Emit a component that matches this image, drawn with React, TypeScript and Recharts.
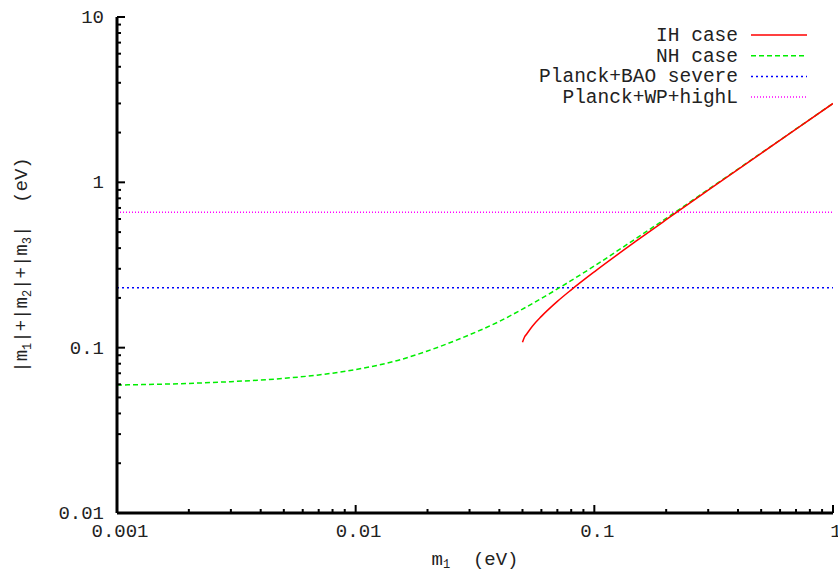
import { LineChart, Line, XAxis, YAxis, ReferenceLine } from 'recharts';

// sum of neutrino masses vs lightest mass m1
const nhM1 = [0.001, 0.002, 0.003, 0.005, 0.007, 0.01, 0.015, 0.02, 0.03, 0.04, 0.05, 0.07, 0.1, 0.15, 0.2, 0.3, 0.5, 0.7, 1];
const nhSum = [0.0594, 0.0608, 0.0623, 0.0652, 0.0684, 0.0737, 0.0837, 0.0955, 0.1197, 0.1441, 0.171, 0.2265, 0.312, 0.459, 0.606, 0.905, 1.503, 2.102, 3.001];

const ihM1 = [0.05, 0.051, 0.052, 0.055, 0.06, 0.07, 0.08, 0.1, 0.15, 0.2, 0.3, 0.5, 0.7, 1];
const ihSum = [0.108, 0.116, 0.1206, 0.1347, 0.1546, 0.1905, 0.2237, 0.2876, 0.4421, 0.594, 0.896, 1.498, 2.099, 2.999];

const planckBao = 0.23;
const planckWp = 0.66;

const xTicks = [0.001, 0.002, 0.003, 0.004, 0.005, 0.006, 0.007, 0.008, 0.009,
  0.01, 0.02, 0.03, 0.04, 0.05, 0.06, 0.07, 0.08, 0.09,
  0.1, 0.2, 0.3, 0.4, 0.5, 0.6, 0.7, 0.8, 0.9, 1];
const yTicks = [0.01, 0.02, 0.03, 0.04, 0.05, 0.06, 0.07, 0.08, 0.09,
  0.1, 0.2, 0.3, 0.4, 0.5, 0.6, 0.7, 0.8, 0.9,
  1, 2, 3, 4, 5, 6, 7, 8, 9, 10];
const majorLabels: Record<string, string> = {
  '0.001': '0.001', '0.01': '0.01', '0.1': '0.1', '1': '1', '10': '10',
};

const nhData = nhM1.map((x, i) => ({ x, y: nhSum[i] }));
const ihData = ihM1.map((x, i) => ({ x, y: ihSum[i] }));

const FONT = '"Liberation Mono", "DejaVu Sans Mono", monospace';
const FS = 19;
const MAJOR = 8;
const MINOR = 4;

const legendItems = [
  { label: 'IH case', color: '#ff0000', dash: undefined },
  { label: 'NH case', color: '#00ee00', dash: '5 3' },
  { label: 'Planck+BAO severe', color: '#0000ff', dash: '2 3' },
  { label: 'Planck+WP+highL', color: '#ff00ff', dash: '1 2' },
];

function tickLen(v: number) {
  return majorLabels[String(v)] ? MAJOR : MINOR;
}

const BottomTick = ({ x, y, payload }: any) => {
  const lbl = majorLabels[String(payload.value)];
  return (
    <g>
      <line x1={x} x2={x} y1={y} y2={y - tickLen(payload.value)} stroke="#000" strokeWidth={2} />
      {lbl && (
        <text x={x + 3} y={y + 24} textAnchor="middle" fontFamily={FONT} fontSize={FS} fill="#222">{lbl}</text>
      )}
    </g>
  );
};

const TopTick = ({ x, y, payload }: any) => (
  <line x1={x} x2={x} y1={y} y2={y + tickLen(payload.value)} stroke="#000" strokeWidth={2} />
);

const LeftTick = ({ x, y, payload }: any) => {
  const lbl = majorLabels[String(payload.value)];
  return (
    <g>
      <line x1={x} x2={x + tickLen(payload.value)} y1={y} y2={y} stroke="#000" strokeWidth={2} />
      {lbl && (
        <text x={x - 13} y={y + 6} textAnchor="end" fontFamily={FONT} fontSize={FS} fill="#222">{lbl}</text>
      )}
    </g>
  );
};

const RightTick = ({ x, y, payload }: any) => (
  <line x1={x} x2={x - tickLen(payload.value)} y1={y} y2={y} stroke="#000" strokeWidth={2} />
);

const XLabel = ({ viewBox }: any) => {
  const cx = viewBox.x + viewBox.width / 2;
  return (
    <text x={cx} y={565} textAnchor="middle" fontFamily={FONT} fontSize={FS} fill="#222" style={{ whiteSpace: 'pre' }}>
      m<tspan fontSize={12} dy={3}>1</tspan><tspan dy={-3}>  (eV)</tspan>
    </text>
  );
};

const YLabel = ({ viewBox }: any) => {
  const cy = viewBox.y + viewBox.height / 2;
  const cx = 27;
  return (
    <text
      x={cx}
      y={cy}
      transform={`rotate(-90 ${cx} ${cy})`}
      textAnchor="middle"
      fontFamily={FONT}
      fontSize={FS}
      fill="#222"
      style={{ whiteSpace: 'pre' }}
    >
      |m<tspan fontSize={12} dy={4}>1</tspan>
      <tspan dy={-4}>|+|m</tspan><tspan fontSize={12} dy={4}>2</tspan>
      <tspan dy={-4}>|+|m</tspan><tspan fontSize={12} dy={4}>3</tspan>
      <tspan dy={-4}>|  (eV)</tspan>
    </text>
  );
};

function KeyBox() {
  return (
    <svg width={300} height={90} style={{ position: 'absolute', left: 530, top: 22 }}>
      {legendItems.map((it, i) => (
        <g key={it.label}>
          <text x={208} y={13 + i * 20.7 + 6} textAnchor="end" fontFamily={FONT} fontSize={19.5} fill="#222">{it.label}</text>
          <line x1={221} x2={277} y1={13 + i * 20.7} y2={13 + i * 20.7} stroke={it.color} strokeWidth={1.5} strokeDasharray={it.dash} />
        </g>
      ))}
    </svg>
  );
}

export default function App() {
  return (
    <div style={{ position: 'absolute', left: 0, top: 0, width: 838, height: 574, background: '#fff' }}>
      <LineChart width={838} height={574} margin={{ top: 17, right: 5, bottom: 0, left: 0 }}>
        <XAxis
          type="number"
          dataKey="x"
          scale="log"
          domain={[0.001, 1]}
          allowDataOverflow
          ticks={xTicks}
          interval={0}
          height={61}
          tickSize={0}
          tickMargin={0}
          tickLine={false}
          axisLine={{ stroke: '#000', strokeWidth: 3 }}
          tick={<BottomTick />}
          label={<XLabel />}
        />
        <XAxis
          xAxisId="top"
          orientation="top"
          type="number"
          dataKey="x"
          scale="log"
          domain={[0.001, 1]}
          allowDataOverflow
          ticks={xTicks}
          interval={0}
          height={0}
          tickSize={0}
          tickMargin={0}
          tickLine={false}
          axisLine={{ stroke: '#000', strokeWidth: 3 }}
          tick={<TopTick />}
        />
        <YAxis
          type="number"
          dataKey="y"
          scale="log"
          domain={[0.01, 10]}
          allowDataOverflow
          ticks={yTicks}
          interval={0}
          width={117}
          tickSize={0}
          tickMargin={0}
          tickLine={false}
          axisLine={{ stroke: '#000', strokeWidth: 3 }}
          tick={<LeftTick />}
          label={<YLabel />}
        />
        <YAxis
          yAxisId="right"
          orientation="right"
          type="number"
          dataKey="y"
          scale="log"
          domain={[0.01, 10]}
          allowDataOverflow
          ticks={yTicks}
          interval={0}
          width={0}
          tickSize={0}
          tickMargin={0}
          tickLine={false}
          axisLine={{ stroke: '#000', strokeWidth: 3 }}
          tick={<RightTick />}
        />
        <ReferenceLine y={planckWp} stroke="#ff00ff" strokeWidth={1.5} strokeDasharray="1 2" />
        <ReferenceLine y={planckBao} stroke="#0000ff" strokeWidth={1.5} strokeDasharray="2 3" />
        <Line data={nhData} dataKey="y" type="monotone" stroke="#00ee00" strokeWidth={1.5} strokeDasharray="5 3" dot={false} isAnimationActive={false} />
        <Line data={ihData} dataKey="y" type="monotone" stroke="#ff0000" strokeWidth={1.5} dot={false} isAnimationActive={false} />
      </LineChart>
      <KeyBox />
    </div>
  );
}
